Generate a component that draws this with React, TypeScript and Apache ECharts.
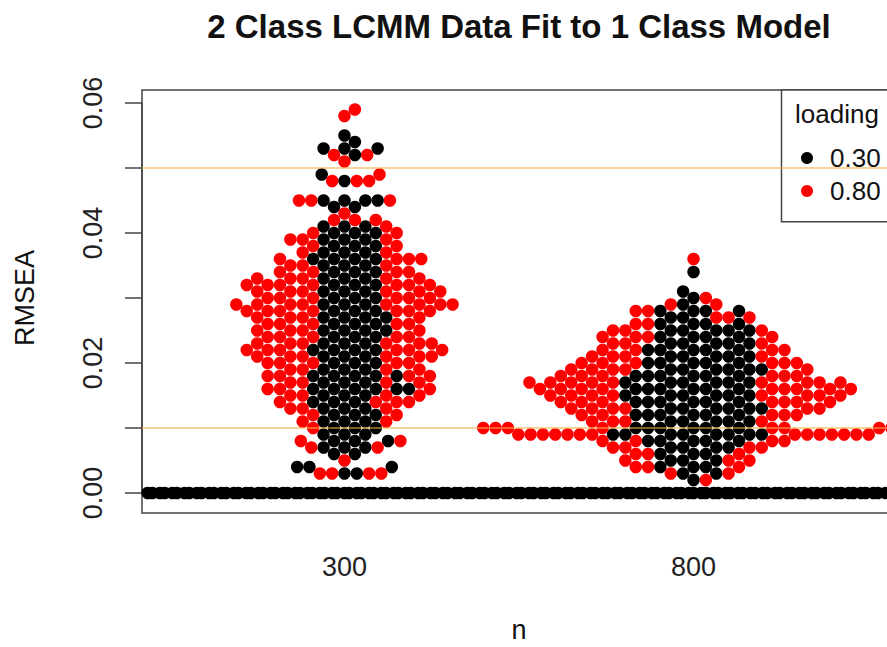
import React, { useEffect, useRef } from "react";
import * as echarts from "echarts";

// ---------- data ----------
// RMSEA values are on a 0.001 grid; each array gives the number of replications
// observed at RMSEA = index * 0.001 (index 0 .. 59).
const rmseaStep = 0.001;
const nLevels = ["300", "800"];
const loadingLevels = ["0.30", "0.80"];
const loadingColors = ["#000000", "#ff0000"];

const n300Loading030 = [
  100, 0, 0, 2, 3, 0, 2, 3, 3, 3,
  3, 3, 3, 3, 3, 3, 6, 3, 5, 3,
  3, 3, 4, 3, 3, 4, 3, 4, 3, 3,
  3, 3, 3, 3, 3, 3, 4, 3, 3, 3,
  3, 3, 0, 0, 2, 4, 0, 0, 1, 1,
  0, 0, 1, 3, 1, 1, 0, 0, 0, 0,
];
const n300Loading080 = [
  0, 0, 0, 4, 0, 1, 0, 2, 2, 0,
  1, 2, 2, 3, 4, 4, 3, 4, 4, 4,
  5, 6, 6, 6, 5, 4, 5, 4, 7, 8,
  6, 6, 7, 5, 4, 3, 4, 2, 2, 3,
  2, 1, 3, 1, 0, 3, 0, 0, 3, 1,
  0, 1, 2, 0, 0, 0, 0, 0, 1, 1,
];
const n800Loading030 = [
  100, 0, 1, 2, 3, 3, 3, 4, 5, 8,
  6, 5, 6, 6, 6, 6, 6, 6, 6, 6,
  5, 5, 5, 5, 4, 5, 4, 2, 4, 1,
  1, 1, 0, 0, 1, 0, 0, 0, 0, 0,
  0, 0, 0, 0, 0, 0, 0, 0, 0, 0,
  0, 0, 0, 0, 0, 0, 0, 0, 0, 0,
];
const n800Loading080 = [
  0, 0, 1, 2, 3, 3, 3, 4, 4, 14,
  9, 4, 5, 6, 7, 8, 9, 9, 6, 5,
  6, 4, 4, 3, 4, 3, 2, 3, 2, 2,
  1, 0, 0, 0, 0, 0, 1, 0, 0, 0,
  0, 0, 0, 0, 0, 0, 0, 0, 0, 0,
  0, 0, 0, 0, 0, 0, 0, 0, 0, 0,
];
const countsByGroup = [
  [n300Loading030, n300Loading080],
  [n800Loading030, n800Loading080],
];
const referenceLines = [0.05, 0.01];
const yLabelValues = [0, 0.02, 0.04, 0.06];

// ---------- layout ----------
const FONT = "'Liberation Sans', Arial, Helvetica, sans-serif";
const CHART_W = 900;
const CHART_H = 647;
const BOX = { left: 142, top: 90, right: 896, bottom: 513 };
const AXIS_TOP = 103; // pixel of 0.06
const AXIS_ZERO = 493; // pixel of 0.00
const PX_PER_Y = (AXIS_ZERO - AXIS_TOP) / 0.06;
const Y_MIN = -(BOX.bottom - AXIS_ZERO) / PX_PER_Y;
const Y_MAX = (AXIS_ZERO - BOX.top) / PX_PER_Y;
const X_MIN = 0.42;
const X_MAX = 2.58;
const PX_PER_X = (BOX.right - BOX.left) / (X_MAX - X_MIN);
const DOT = 12.3; // beeswarm collision size (px)
const SYMBOL = 12.5;

// beeswarm "swarm" placement, priority ascending (ties keep data order)
function swarmOffsets(values: number[]): number[] {
  const ys = values.map((v) => v * PX_PER_Y);
  const xs: number[] = [];
  for (let i = 0; i < ys.length; i++) {
    const yi = ys[i];
    const near: number[] = [];
    for (let j = 0; j < i; j++) {
      if (Math.abs(yi - ys[j]) < DOT) near.push(j);
    }
    if (near.length === 0) {
      xs.push(0);
      continue;
    }
    const plus: number[] = [];
    const minus: number[] = [];
    near.forEach((j) => {
      const dy = yi - ys[j];
      const off = Math.sqrt(DOT * DOT - dy * dy);
      plus.push(xs[j] + off);
      minus.push(xs[j] - off);
    });
    const cands = [0, ...plus, ...minus];
    let best = Infinity;
    let bestAbs = Infinity;
    for (const c of cands) {
      if (Math.abs(c) >= bestAbs) continue;
      let bad = false;
      for (const j of near) {
        const dx = c - xs[j];
        const dy = yi - ys[j];
        if (dx * dx + dy * dy < 0.999 * DOT * DOT) {
          bad = true;
          break;
        }
      }
      if (!bad) {
        best = c;
        bestAbs = Math.abs(c);
      }
    }
    xs.push(best);
  }
  return xs;
}

function buildSeriesData() {
  const out: number[][][] = [[], []];
  countsByGroup.forEach((byLoading, g) => {
    const values: number[] = [];
    const colorIdx: number[] = [];
    for (let k = 0; k < byLoading[0].length; k++) {
      byLoading.forEach((counts, c) => {
        for (let m = 0; m < counts[k]; m++) {
          values.push(k * rmseaStep);
          colorIdx.push(c);
        }
      });
    }
    const offs = swarmOffsets(values);
    values.forEach((v, i) => {
      out[colorIdx[i]].push([g + 1 + offs[i] / PX_PER_X, v]);
    });
  });
  return out;
}

export default function App() {
  const ref = useRef<HTMLDivElement>(null);
  useEffect(() => {
    if (!ref.current) return;
    const chart = echarts.init(ref.current, undefined, { renderer: "svg" });
    const pts = buildSeriesData();
    const boxW = BOX.right - BOX.left;
    chart.setOption({
      animation: false,
      backgroundColor: "#ffffff",
      textStyle: { fontFamily: FONT },
      title: {
        text: "2 Class LCMM Data Fit to 1 Class Model",
        left: (BOX.left + BOX.right) / 2,
        textAlign: "center",
        top: 10,
        padding: 0,
        textStyle: { fontSize: 33, fontWeight: "bold", color: "#111", fontFamily: FONT },
      },
      grid: [
        {
          left: BOX.left,
          top: BOX.top,
          width: boxW,
          height: BOX.bottom - BOX.top,
          show: true,
          borderColor: "#444",
          borderWidth: 1.5,
          backgroundColor: "transparent",
        },
        {
          left: BOX.left,
          top: AXIS_TOP,
          width: boxW,
          height: AXIS_ZERO - AXIS_TOP,
        },
      ],
      xAxis: [
        {
          type: "value",
          gridIndex: 0,
          min: X_MIN,
          max: X_MAX,
          axisLine: { show: false },
          axisTick: { show: false },
          splitLine: { show: false },
          axisLabel: {
            customValues: [1, 2],
            formatter: (v: number) => nLevels[Math.round(v) - 1] ?? "",
            fontSize: 27,
            color: "#222",
            fontFamily: FONT,
            margin: 40,
          },
        },
        { type: "value", gridIndex: 1, show: false, min: 0, max: 1 },
      ],
      yAxis: [
        { type: "value", gridIndex: 0, min: Y_MIN, max: Y_MAX, show: false },
        {
          type: "value",
          gridIndex: 1,
          min: 0,
          max: 0.06,
          interval: 0.01,
          axisLine: { show: true, lineStyle: { color: "#444", width: 1.5 } },
          axisTick: { show: true, length: 17, lineStyle: { color: "#444", width: 1.5 } },
          splitLine: { show: false },
          axisLabel: {
            rotate: 90,
            fontSize: 27,
            color: "#222",
            fontFamily: FONT,
            margin: 36,
            formatter: (v: number) =>
              yLabelValues.some((t) => Math.abs(t - v) < 1e-9) ? v.toFixed(2) : "",
          },
        },
      ],
      legend: {
        data: loadingLevels.map((n) => ({ name: n, icon: "circle" })),
        orient: "vertical",
        left: 801,
        top: 145,
        itemWidth: 36,
        itemHeight: 12,
        itemGap: 7,
        padding: 0,
        selectedMode: false,
        textStyle: { fontSize: 26, color: "#111", fontFamily: FONT },
        z: 6,
      },
      graphic: [
        {
          type: "rect",
          z: 4,
          shape: { x: 781.5, y: BOX.top, width: 200, height: 131.7 },
          style: { fill: "#ffffff", stroke: "#444", lineWidth: 1.5 },
        },
        {
          type: "text",
          z: 6,
          x: 795,
          y: 114,
          style: {
            text: "loading",
            fontSize: 26,
            fontFamily: FONT,
            fill: "#111",
            textAlign: "left",
            textVerticalAlign: "middle",
          },
        },
        {
          type: "text",
          z: 6,
          x: (BOX.left + BOX.right) / 2,
          y: 630,
          style: {
            text: "n",
            fontSize: 27,
            fontFamily: FONT,
            fill: "#111",
            textAlign: "center",
            textVerticalAlign: "middle",
          },
        },
        {
          type: "text",
          z: 6,
          x: 25,
          y: (AXIS_TOP + AXIS_ZERO) / 2,
          rotation: Math.PI / 2,
          style: {
            text: "RMSEA",
            fontSize: 27,
            fontFamily: FONT,
            fill: "#111",
            textAlign: "center",
            textVerticalAlign: "middle",
          },
        },
      ],
      series: [
        ...loadingLevels.map((name, c) => ({
          name,
          type: "scatter",
          xAxisIndex: 0,
          yAxisIndex: 0,
          symbol: "circle",
          symbolSize: SYMBOL,
          clip: true,
          itemStyle: { color: loadingColors[c], opacity: 1 },
          emphasis: { disabled: true },
          data: pts[c],
        })),
        {
          name: "reference",
          type: "scatter",
          xAxisIndex: 0,
          yAxisIndex: 0,
          data: [],
          z: 3,
          markLine: {
            silent: true,
            symbol: ["none", "none"],
            label: { show: false },
            lineStyle: { color: "rgba(240,175,70,0.55)", width: 2, type: "solid" },
            data: referenceLines.map((v) => ({ yAxis: v })),
          },
        },
      ],
    });
    return () => chart.dispose();
  }, []);
  return (
    <div
      style={{
        position: "fixed",
        left: 0,
        top: 0,
        width: 887,
        height: CHART_H,
        overflow: "hidden",
        background: "#fff",
      }}
    >
      <div ref={ref} style={{ width: CHART_W, height: CHART_H }} />
    </div>
  );
}
